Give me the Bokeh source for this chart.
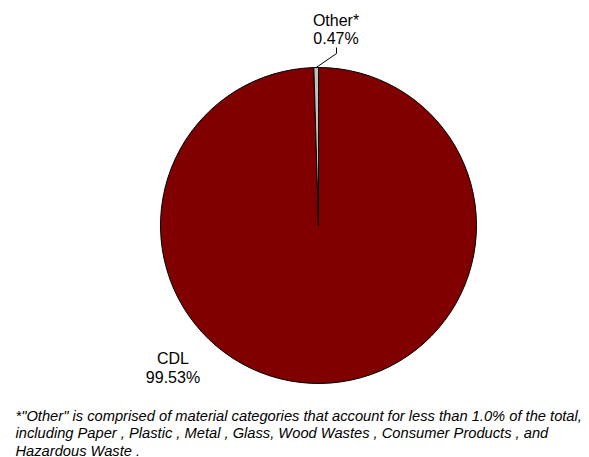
import math
from bokeh.plotting import figure
from bokeh.models import Range1d, ColumnDataSource
from bokeh.core.properties import value
from bokeh.embed import file_html
from bokeh.resources import INLINE

# ---- data ----
categories = ["CDL", "Other*"]
percents = [99.53, 0.47]
slice_colors = ["#800000", "#C0C0C0"]
value_labels = ["99.53%", "0.47%"]
footnote_lines = [
    '*"Other" is comprised of material categories that account for less than 1.0% of the total,',
    'including Paper , Plastic , Metal , Glass, Wood Wastes , Consumer Products , and',
    'Hazardous Waste .',
]

W, H = 589, 457
p = figure(width=W, height=H, output_backend="svg", toolbar_location=None,
           x_range=Range1d(0, W), y_range=Range1d(0, H), min_border=0)
p.axis.visible = False
p.grid.visible = False
p.outline_line_color = None

def fy(page_y):
    return H - page_y

cx, cy, r = 318, fy(225), 158

# Excel-style: first slice starts at 12 o'clock, clockwise.
total = sum(percents)
start = math.pi / 2
starts, ends = [], []
for v in percents:
    a = v / total * 2 * math.pi
    starts.append(start - a)
    ends.append(start)
    start -= a

src = ColumnDataSource(dict(cat=categories, s=starts, e=ends, color=slice_colors))
p.wedge(x=cx, y=cy, radius=r, start_angle="s", end_angle="e", direction="anticlock",
        fill_color="color", line_color="black", line_width=1, source=src)

# leader line for Other
mid = (starts[1] + ends[1]) / 2
x0 = cx + r * math.cos(mid)
y0 = cy + r * math.sin(mid)
p.line(x=[x0, 336, 336], y=[y0, fy(53), fy(47)], line_color="black", line_width=1)

font = value("Liberation Sans")
p.text(x=[335.5, 335.5], y=[fy(19.5), fy(37.5)], text=[categories[1], value_labels[1]],
       text_font=font, text_font_size="16px", text_align="center",
       text_baseline="alphabetic", text_color="black")
p.text(x=[172.5, 172.5], y=[fy(357.7), fy(376.7)], text=[categories[0], value_labels[0]],
       text_font=font, text_font_size="16px", text_align="center",
       text_baseline="alphabetic", text_color="black")

p.text(x=[15, 15, 15], y=[fy(415), fy(432.5), fy(450)], text=footnote_lines,
       text_font=font, text_font_size="14.7px", text_font_style="italic",
       text_align="left", text_baseline="alphabetic", text_color="black")

open("out.html", "w").write(file_html(p, INLINE))
